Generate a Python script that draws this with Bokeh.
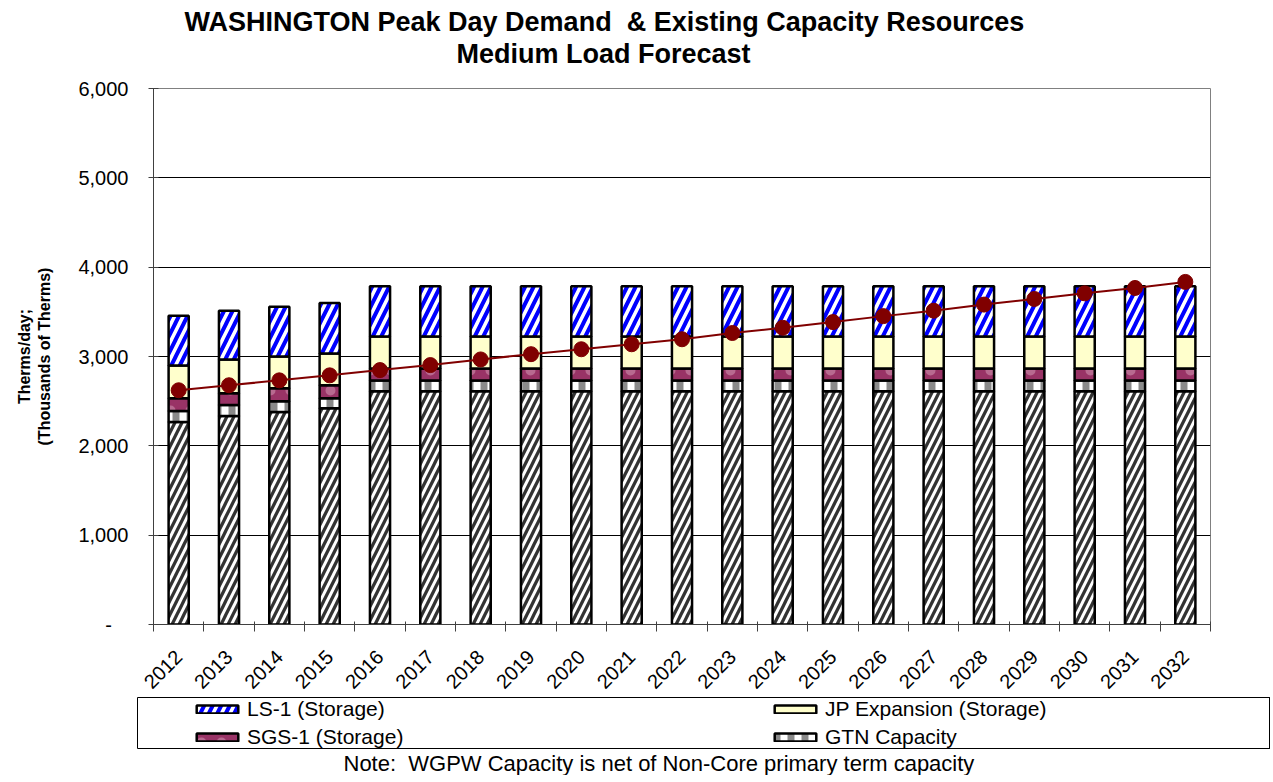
import math
import numpy as np
from bokeh.plotting import figure
from bokeh.models import (ColumnDataSource, FixedTicker, Legend, LegendItem, Title,
                          Range1d, NumeralTickFormatter, Spacer)
from bokeh.layouts import column, row
from bokeh.core.properties import value
from bokeh.embed import file_html
from bokeh.resources import INLINE

# ---------------- data ----------------
years = ["2012", "2013", "2014", "2015", "2016", "2017", "2018", "2019", "2020", "2021",
         "2022", "2023", "2024", "2025", "2026", "2027", "2028", "2029", "2030", "2031", "2032"]
wgpw = [2267, 2333, 2378, 2422, 2610, 2610, 2610, 2610, 2610, 2610,
        2610, 2610, 2610, 2610, 2610, 2610, 2610, 2610, 2610, 2610, 2610]
gtn = [122, 123, 122, 111, 122, 122, 122, 122, 122, 122,
       122, 122, 122, 122, 122, 122, 122, 122, 122, 122, 122]
sgs1 = [144, 133, 144, 145, 135, 135, 135, 135, 135, 135,
        135, 135, 135, 135, 135, 135, 135, 135, 135, 135, 135]
jp = [367, 378, 356, 355, 358, 358, 358, 358, 358, 358,
      358, 358, 358, 358, 358, 358, 358, 358, 358, 358, 358]
ls1 = [556, 544, 556, 567, 562, 562, 562, 562, 562, 562,
       562, 562, 562, 562, 562, 562, 562, 562, 562, 562, 562]
demand = [2622, 2678, 2733, 2789, 2848, 2904, 2967, 3026, 3081, 3137, 3193,
          3263, 3322, 3385, 3452, 3513, 3581, 3644, 3707, 3767, 3835]
y_ticks = [0, 1000, 2000, 3000, 4000, 5000, 6000]

title1 = "WASHINGTON Peak Day Demand\u00a0 & Existing Capacity Resources"
title2 = "Medium Load Forecast"
note = "Note:\u00a0 WGPW Capacity is net of Non-Core primary term capacity"

FONT = "'Liberation Sans', Arial, sans-serif"

# ---------------- stacking ----------------
xs = list(range(len(years)))
series = [wgpw, gtn, sgs1, jp, ls1]
tops = np.cumsum(np.array(series, dtype=float), axis=0)
bots = tops - np.array(series, dtype=float)
src = ColumnDataSource(dict(x=xs, demand=demand,
                            **{f"b{i}": bots[i] for i in range(5)},
                            **{f"t{i}": tops[i] for i in range(5)}))

styles = [
    dict(fill_color="#333333", hatch_pattern="/", hatch_color="white", hatch_weight=3, hatch_scale=14),
    dict(fill_color="white", hatch_pattern="|", hatch_color="#8a8a8a", hatch_weight=7, hatch_scale=14),
    dict(fill_color="#993366", hatch_pattern=".", hatch_color="#b86a90", hatch_weight=1, hatch_scale=20),
    dict(fill_color="#ffffcc"),
    dict(fill_color="white", hatch_pattern="/", hatch_color="#0000ff", hatch_weight=4, hatch_scale=17),
]

W = 1270
H = 697
p = figure(width=W, height=H, x_range=Range1d(-0.5, 20.5), y_range=Range1d(0, 6000),
           toolbar_location=None, output_backend="svg",
           min_border_left=153, min_border_right=60, min_border_top=88, min_border_bottom=69)
p.outline_line_color = "#808080"
p.xgrid.visible = False
p.ygrid.grid_line_color = "black"
p.ygrid.grid_line_width = 1
p.ygrid.ticker = FixedTicker(ticks=y_ticks)

for i in range(5):
    p.vbar(x="x", bottom=f"b{i}", top=f"t{i}", width=0.4, source=src,
           line_color="black", line_width=2.5, **styles[i])

p.line(x="x", y="demand", source=src, line_color="#800000", line_width=2)
p.scatter(x="x", y="demand", source=src, size=15, fill_color="#800000", line_color="#800000")

# axes
yax = p.yaxis[0]
yax.ticker = FixedTicker(ticks=y_ticks)
yax.formatter = NumeralTickFormatter(format="0,0")
yax.major_label_overrides = {0: "-\u00a0\u00a0\u00a0"}
yax.major_label_text_font = FONT
yax.major_label_text_font_size = "20px"
yax.major_label_text_color = "black"
yax.major_label_standoff = 20
yax.major_tick_in = 5
yax.major_tick_out = 5
yax.minor_tick_line_color = None
yax.axis_line_color = "#404040"
yax.major_tick_line_color = "#404040"
yax.axis_label = "Therms/day;\n(Thousands of Therms)"
yax.axis_label_text_font = FONT
yax.axis_label_text_font_size = "16px"
yax.axis_label_text_font_style = "bold"
yax.axis_label_text_color = "black"
yax.axis_label_standoff = 22

xax = p.xaxis[0]
xax.ticker = FixedTicker(ticks=xs, minor_ticks=[i - 0.5 for i in range(len(years) + 1)])
xax.major_label_overrides = {i: years[i] for i in xs}
xax.major_label_orientation = math.pi / 4
xax.major_label_text_font = FONT
xax.major_label_text_font_size = "20px"
xax.major_label_text_color = "black"
xax.major_label_standoff = 22
xax.major_tick_in = 0
xax.major_tick_out = 0
xax.minor_tick_in = 3
xax.minor_tick_out = 7
xax.minor_tick_line_color = "#404040"
xax.axis_line_color = "#404040"

# titles (add lower line first; last added sits on top)
t2 = Title(text=title2, align="left", offset=303, text_font=FONT, text_font_size="27px",
           text_font_style="bold", text_color="black", standoff=40)
t1 = Title(text=title1, align="left", offset=31, text_font=FONT, text_font_size="27px",
           text_font_style="bold", text_color="black", standoff=-40)
p.add_layout(t2, "above")
p.add_layout(t1, "above")

# ---------------- legend box ----------------
LW = 1133
lf = figure(width=LW, height=78, x_range=Range1d(0, 1), y_range=Range1d(0, 1),
            toolbar_location=None, output_backend="svg", x_axis_type=None, y_axis_type=None,
            min_border=0, min_border_bottom=22)
lf.outline_line_color = "black"
lf.outline_line_width = 1
lf.xgrid.visible = False
lf.ygrid.visible = False
dummy = ColumnDataSource(dict(x=[5], t=[1]))
names = ["WGPW", "GTN Capacity", "SGS-1 (Storage)", "JP Expansion (Storage)", "LS-1 (Storage)"]
leg_r = {}
for i in range(5):
    leg_r[i] = lf.vbar(x="x", top="t", width=0.4, source=dummy, line_color="black",
                       line_width=2.5, **styles[i])
items = [LegendItem(label=names[4], renderers=[leg_r[4]]),
         LegendItem(label=names[2], renderers=[leg_r[2]]),
         LegendItem(label=names[3], renderers=[leg_r[3]]),
         LegendItem(label=names[1], renderers=[leg_r[1]])]
leg = Legend(items=items, orientation="vertical", ncols=2, location=(54, -1),
             padding=0, margin=0, spacing=4, glyph_width=52, glyph_height=10,
             label_standoff=4, label_width=518, label_text_font=FONT,
             label_text_font_size="21px", label_text_color="black",
             border_line_alpha=0, background_fill_alpha=0)
lf.add_layout(leg, "center")
nt = Title(text=note, align="left", offset=206, text_font=FONT, text_font_size="22px",
           text_font_style="normal", text_color="black", standoff=0)
lf.add_layout(nt, "below")

layout = column(p, row(Spacer(width=137, height=10), lf))
open("out.html", "w").write(file_html(layout, INLINE))
